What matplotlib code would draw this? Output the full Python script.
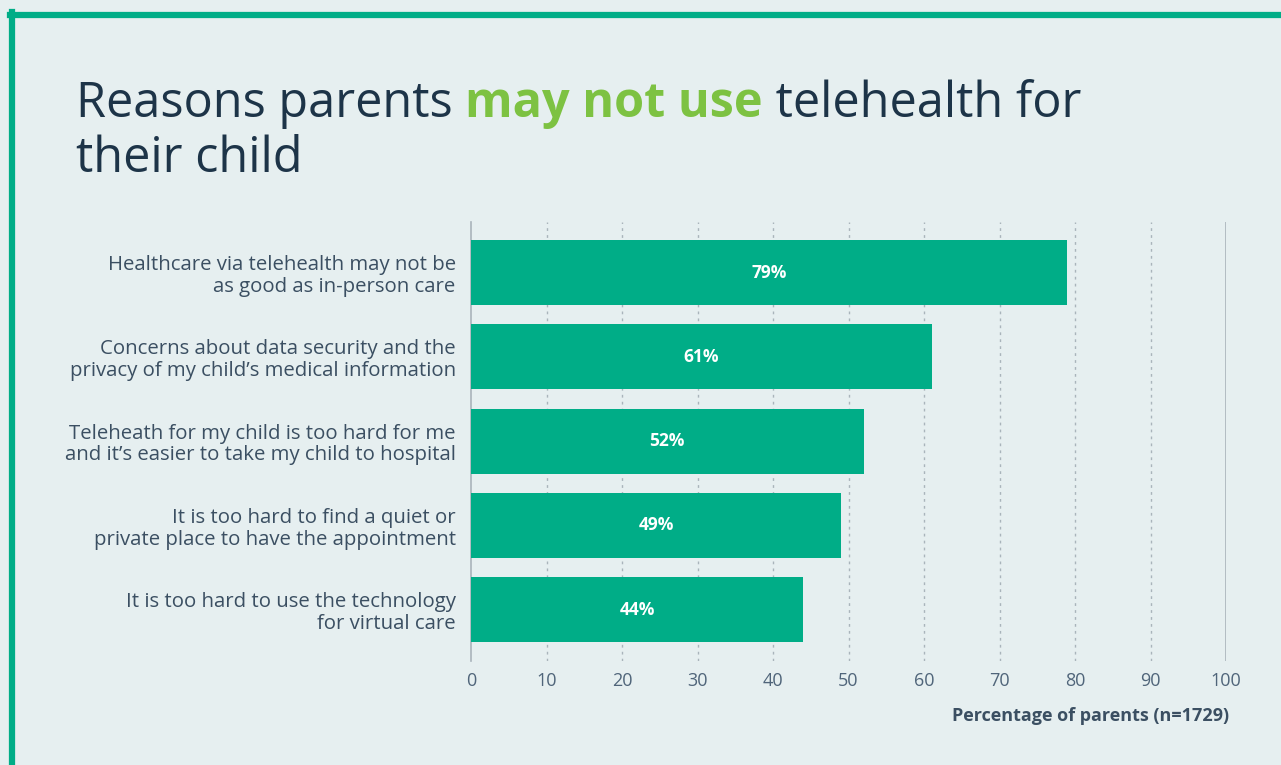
import matplotlib
matplotlib.use("Agg")
import matplotlib.pyplot as plt

categories = [
    "Healthcare via telehealth may not be\nas good as in-person care",
    "Concerns about data security and the\nprivacy of my child\u2019s medical information",
    "Teleheath for my child is too hard for me\nand it\u2019s easier to take my child to hospital",
    "It is too hard to find a quiet or\nprivate place to have the appointment",
    "It is too hard to use the technology\nfor virtual care",
]
values = [79, 61, 52, 49, 44]
xticks = [0, 10, 20, 30, 40, 50, 60, 70, 80, 90, 100]

BG = "#e6eff0"
GREEN = "#00ad87"
TITLE_GREEN = "#7dc242"
NAVY = "#1d3448"
LABEL = "#3b4f62"
FONT = "Open Sans"

W, H = 1281, 765
fig = plt.figure(figsize=(W / 100, H / 100), dpi=100, facecolor=BG)

# border (open to right/bottom)
fig.add_artist(plt.Line2D([12 / W, 12 / W], [0, 1 - 12 / H], color=GREEN, lw=4.5, transform=fig.transFigure))
fig.add_artist(plt.Line2D([10 / W, 1], [1 - 14.5 / H, 1 - 14.5 / H], color=GREEN, lw=4.5, transform=fig.transFigure))

ax = fig.add_axes([471 / W, 1 - 661 / H, (1226 - 471) / W, (661 - 222) / H])
ax.set_facecolor(BG)
n = len(values)
y = list(range(n))
ax.barh(y, values, height=0.77, color=GREEN, zorder=3)
ax.set_ylim(n - 1 + 0.61, -0.6)
ax.set_xlim(0, 100)
for yi, v in zip(y, values):
    ax.text(v / 2, yi, f"{v}%", ha="center", va="center", color="white",
            fontsize=12.5, fontweight="bold", family=FONT, zorder=4)
for t in xticks[1:-1]:
    ax.axvline(t, color="#a9b4bb", lw=1, ls=(0, (2, 3)), zorder=1)
ax.axvline(100, color="#a9b4bb", lw=1.2, zorder=1)
for s in ["top", "right", "bottom"]:
    ax.spines[s].set_visible(False)
ax.spines["left"].set_color("#a9b4bb")
ax.spines["left"].set_linewidth(1.2)
ax.set_xticks(xticks)
ax.set_xticklabels([str(t) for t in xticks], family=FONT, fontsize=13, color="#50657a")
ax.tick_params(axis="x", length=0, pad=8)
ax.set_yticks(y)
ax.set_yticklabels(categories, family=FONT, fontsize=14.7, color=LABEL, linespacing=1.12)
ax.tick_params(axis="y", length=0, pad=11)
for lab in ax.get_yticklabels():
    lab.set_horizontalalignment("right")

fig.text(1229 / W, 1 - 716 / H, "Percentage of parents (n=1729)", ha="right", va="center",
         family=FONT, fontsize=13, fontweight="bold", color="#3b4f62")

# title
ts = 35
t1 = fig.text(76 / W, 1 - 117 / H, "Reasons parents ", family=FONT, fontsize=ts, color=NAVY, va="baseline")
t2 = fig.text(0, 0, "may not use", family=FONT, fontsize=ts, color=TITLE_GREEN, fontweight="bold", va="baseline")
t3 = fig.text(0, 0, " telehealth for", family=FONT, fontsize=ts, color=NAVY, va="baseline")
fig.text(76 / W, 1 - 172 / H, "their child", family=FONT, fontsize=ts, color=NAVY, va="baseline")
fig.canvas.draw()
r = fig.canvas.get_renderer()
bb1 = t1.get_window_extent(r)
t2.set_position((bb1.x1 / W, 1 - 117 / H))
fig.canvas.draw()
bb2 = t2.get_window_extent(r)
t3.set_position((bb2.x1 / W, 1 - 117 / H))

fig.savefig("out.png", dpi=100, facecolor=BG)
